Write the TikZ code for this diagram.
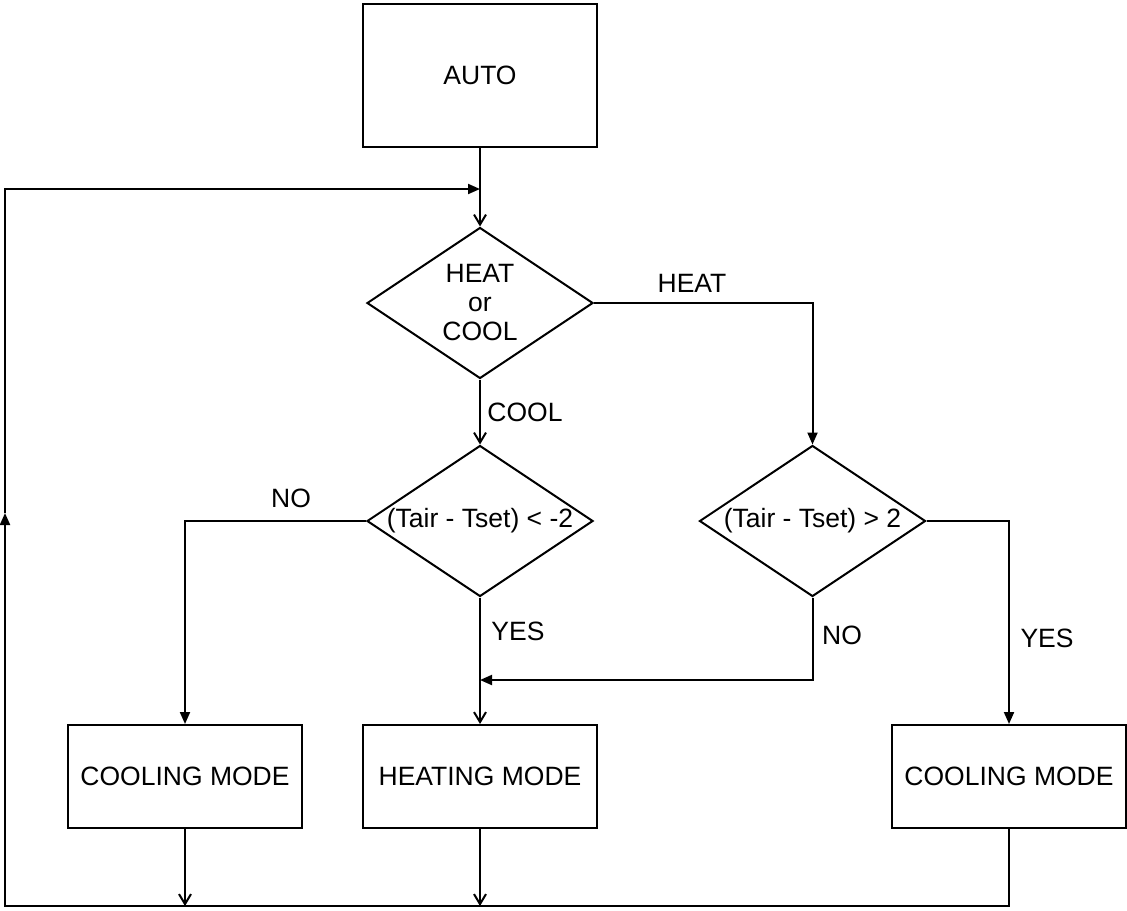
\documentclass[tikz,border=0pt]{standalone}
\usepackage{fontspec}
\setmainfont{Liberation Sans}
\usetikzlibrary{shapes.geometric,arrows.meta}

\begin{document}
\begin{tikzpicture}[x=0.5pt,y=-0.5pt,line width=1pt,
  font=\fontsize{13.25}{14.5}\selectfont,
  block/.style={draw,rectangle,minimum width=117pt,minimum height=51.5pt,inner sep=0pt},
  decision/.style={draw,diamond,aspect=1.5,minimum width=113pt,minimum height=75.5pt,inner sep=0pt,align=center},
  solidtip/.style={-{Triangle[length=6pt,width=5pt]}},
  opentip/.style={-{Straight Barb[length=5pt,width=6pt]}}]

\useasboundingbox (0,0) rectangle (1127,910);

% boxes
\node[block,minimum height=71.5pt] (auto) at (480,75.5) {AUTO};
\node[decision] (heatcool) at (480,303) {HEAT\\or\\COOL};
\node[decision] (coolcheck) at (480,521) {\makebox[0pt]{(Tair - Tset) < -2}};
\node[decision] (heatcheck) at (812.5,521) {\makebox[0pt]{(Tair - Tset) > 2}};

\node[block] (coolleft) at (185,776.5) {COOLING MODE};
\node[block] (heating) at (480,776.5) {HEATING MODE};
\node[block] (coolright) at (1009,776.5) {COOLING MODE};

% return loop
\coordinate (loopin) at (480,189);
\coordinate (topleft) at (5,189);
\coordinate (uparrow) at (5,513);
\coordinate (botleft) at (5,906);
\coordinate (merge) at (480,680);

\draw[opentip] (auto.south) -- (heatcool.north);
\draw[solidtip] (heatcool.east) -| (heatcheck.north);
\draw[opentip] (heatcool.south) -- (coolcheck.north);
\draw[solidtip] (coolcheck.west) -| (coolleft.north);
\draw[opentip] (coolcheck.south) -- (heating.north);
\draw[solidtip] (heatcheck.south) |- (merge);
\draw[solidtip] (heatcheck.east) -| (coolright.north);

\draw[opentip] (coolleft.south) -- (coolleft.south |- botleft);
\draw[opentip] (heating.south) -- (heating.south |- botleft);
\draw[solidtip] (coolright.south) |- (botleft) -- (uparrow);
\draw[solidtip] (uparrow) -- (topleft) -- (loopin);

% labels
\node (lblheat) at (692,283) {HEAT};
\node (lblcool) at (525,412) {COOL};
\node (lblnoleft) at (291,498) {NO};
\node (lblyesleft) at (518,631) {YES};
\node (lblnoright) at (842,635) {NO};
\node (lblyesright) at (1047,638) {YES};

\end{tikzpicture}
\end{document}
